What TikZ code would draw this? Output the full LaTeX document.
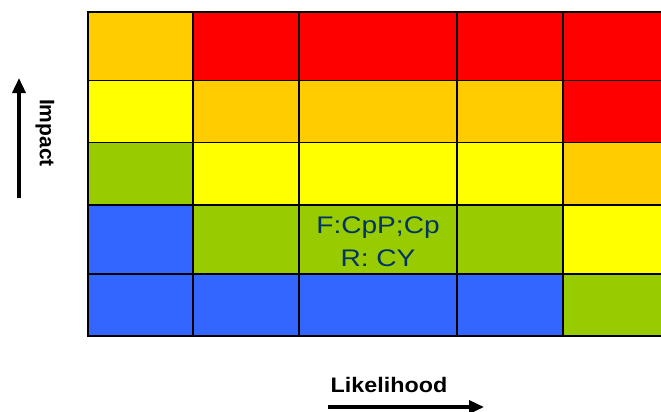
\documentclass[tikz,border=0pt]{standalone}
\usepackage{fontspec}
\setmainfont{Liberation Sans}
\usetikzlibrary{arrows.meta}

\definecolor{rO}{HTML}{FFCC00}
\definecolor{rR}{HTML}{FF0000}
\definecolor{rY}{HTML}{FFFF00}
\definecolor{rG}{HTML}{99CC00}
\definecolor{rB}{HTML}{3366FF}
\definecolor{navy}{RGB}{0,51,102}

\begin{document}
\begin{tikzpicture}[x=1pt,y=-1pt,
  gridline/.style={line width=1.8pt, black},
  axisarrow/.style={line width=3.5pt, -{Triangle[length=15pt,width=13pt]}},
  axislabel/.style={font=\bfseries\fontsize{21}{25}\selectfont, inner sep=0pt}]
\useasboundingbox (0,0) rectangle (661,412);

% risk matrix cells, one row per entry (top row first)
\begin{scope}
\clip (0,0) rectangle (661,412);
\foreach \ya/\yb/\ca/\cb/\cc/\cd/\ce in {
  12/80.5/rO/rR/rR/rR/rR,
  80.5/142.5/rY/rO/rO/rO/rR,
  142.5/205/rG/rY/rY/rY/rO,
  205/274/rB/rG/rG/rG/rY,
  274/336/rB/rB/rB/rB/rG}{
  \fill[\ca] (88,\ya) rectangle (193,\yb);
  \fill[\cb] (193,\ya) rectangle (299,\yb);
  \fill[\cc] (299,\ya) rectangle (457,\yb);
  \fill[\cd] (457,\ya) rectangle (563,\yb);
  \fill[\ce] (563,\ya) rectangle (700,\yb);
}
% grid lines
\draw[gridline] (88,12) rectangle (700,336);
\foreach \y in {80.5,142.5,205,274}
  \draw[gridline] (88,\y) -- (700,\y);
\foreach \x in {193,299,457,563}
  \draw[gridline] (\x,12) -- (\x,336);
\end{scope}

% cell label
\node[text=navy, font=\fontsize{24}{33}\selectfont, align=center,
      xscale=1.17, inner sep=0pt] (risk) at (378,242) {F:CpP;Cp\\R: CY};

% axes
\node[axislabel, xscale=1.11, anchor=base] (lk) at (389,392) {Likelihood};
\coordinate (lkS) at (328,407);
\coordinate (lkE) at (484,407);
\draw[axisarrow] (lkS) -- (lkE);

\node[axislabel, rotate=-90] (im) at (45,133) {Impact};
\coordinate (imS) at (19,198);
\coordinate (imE) at (19,78);
\draw[axisarrow] (imS) -- (imE);
\end{tikzpicture}
\end{document}
